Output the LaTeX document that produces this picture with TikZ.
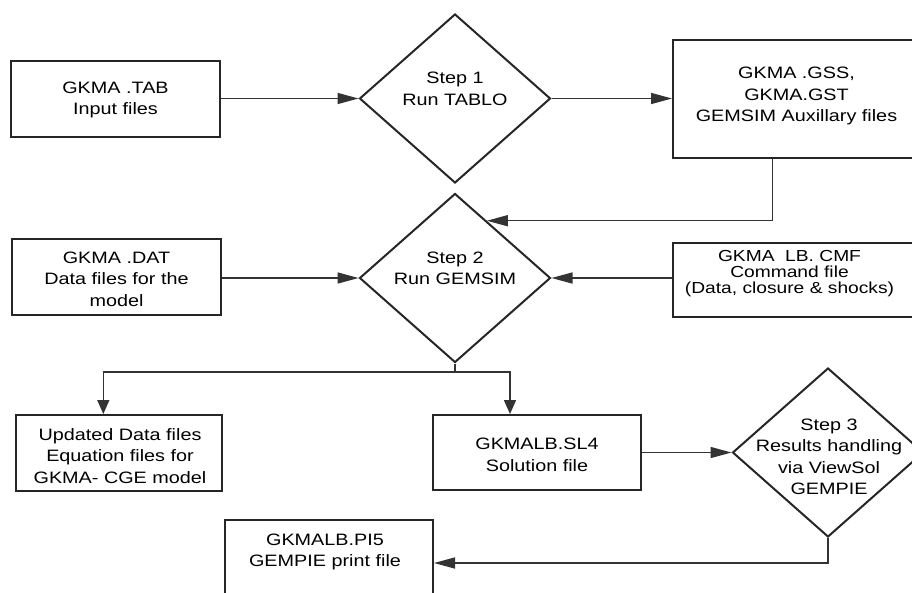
\documentclass[tikz,border=0pt]{standalone}
\usepackage{fontspec}
\setmainfont{Liberation Sans}[FakeStretch=1.2]
\usetikzlibrary{shapes.geometric,arrows.meta,calc}
\begin{document}
\begin{tikzpicture}[x=1pt,y=-1pt]
\tikzset{
 box/.style={draw=black!85, line width=2pt, inner sep=0pt, rectangle},
 dia/.style={draw=black!85, line width=2pt, diamond, inner sep=0pt, minimum width=191pt, minimum height=169pt},
 txt/.style={align=center, font=\fontsize{16.5}{21.5}\selectfont, inner sep=0pt},
 conn/.style={draw=black!80, line width=1.5pt},
 harr/.style={conn, -{Triangle[length=21pt,width=11pt]}},
 varr/.style={conn, -{Triangle[length=14pt,width=12pt]}},
}
\useasboundingbox (0,0) rectangle (912,592);
\clip (0,0) rectangle (912,592);
\fill[white] (0,0) rectangle (912,592);

\node[box, minimum width=209pt, minimum height=76pt] (b1) at (115.5,99) {};
\node[txt] (t1) at (115.5,100) {GKMA .TAB\\Input files};
\node[dia] (d1) at (455,98.5) {};
\node[txt] (t2) at (455,89) {Step 1\\Run TABLO};
\node[box, minimum width=247pt, minimum height=118pt] (b3) at (796.5,99) {};
\node[txt] (t3) at (796.5,96) {GKMA .GSS,\\GKMA.GST\\GEMSIM Auxillary files};
\node[dia] (d2) at (455,278) {};
\node[txt] (t4) at (455,268.5) {Step 2\\Run GEMSIM};
\node[box, minimum width=209pt, minimum height=76pt] (b4) at (116.5,277) {};
\node[txt] (t5) at (116.5,279) {GKMA .DAT\\Data files for the\\model};
\node[box, minimum width=245pt, minimum height=74.5pt] (b5) at (795.5,280) {};
\node[txt, font=\fontsize{16}{16}\selectfont] (t6) at (789.5,273.5) {GKMA\ \ LB. CMF\\Command file\\(Data, closure \& shocks)};
\node[box, minimum width=206pt, minimum height=76pt] (b6) at (119,453) {};
\node[txt] (t7) at (120,456) {Updated Data files\\Equation files for\\GKMA- CGE model};
\node[box, minimum width=208pt, minimum height=75pt] (b7) at (537,452.5) {};
\node[txt] (t8) at (537,455) {GKMALB.SL4\\Solution file};
\node[dia] (d3) at (828,452.5) {};
\node[txt] (t9) at (829,457) {Step 3\\Results handling\\via ViewSol\\GEMPIE};
\node[box, minimum width=208pt, minimum height=80pt] (b8) at (329,560) {};
\node[txt] (t10) at (325,552) {GKMALB.PI5\\GEMPIE print file};

\draw[harr] (b1.east |- d1.west) -- (d1.west);
\draw[harr] (d1.east) -- (d1.east -| b3.west);
\draw[harr] ($(b3.south)+(-23.8,0)$) |- ($(d2.north)!0.33!(d2.east)$);
\draw[harr] (b4.east |- d2.west) -- (d2.west);
\draw[harr] (b5.west |- d2.east) -- (d2.east);
\coordinate (j) at ($(d2.south)+(0,8.5)$);
\draw[conn] (d2.south) -- (j);
\draw[varr] (j) -| ($(b6.north)+(-15.7,0)$);
\draw[varr] (j) -| ($(b7.north)+(-27,0)$);
\draw[harr] (b7.east |- d3.west) -- (d3.west);
\draw[harr] (d3.south) |- ($(b8.east)+(0,3)$);
\end{tikzpicture}
\end{document}
